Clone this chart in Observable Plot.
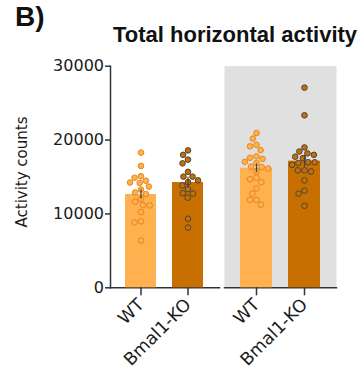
<!DOCTYPE html>
<html><head><meta charset="utf-8">
<script src="https://cdn.jsdelivr.net/npm/d3@7"></script>
<script src="https://cdn.jsdelivr.net/npm/@observablehq/plot@0.6"></script>
<style>
body{margin:0;background:#fff;}
#wrap{position:relative;width:361px;height:372px;overflow:hidden;}
#wrap svg{position:absolute;top:0;}
.lbl{position:absolute;white-space:nowrap;line-height:1;color:#111;}
.bold{font-family:"Liberation Sans",Arial,sans-serif;font-weight:bold;}
</style></head><body>
<div id="wrap">
  <div class="lbl bold" style="left:15px;top:3px;font-size:28px">B)</div>
  <div class="lbl bold" style="left:113px;top:24px;font-size:22px">Total horizontal activity</div>
  <div class="lbl" id="ylab" style="left:22px;top:171.5px;transform:translate(-50%,-50%) rotate(-90deg);font-family:'DejaVu Sans';font-size:15px;color:#1a1a1a">Activity counts</div>
</div>
<script>
// ---- data ----
const genotypes = ["WT", "Bmal1-KO"];
const yTicks = [0, 10000, 20000, 30000];

// panel 1 (white background)
const wtPanel1 = [18300, 16500, 15100, 14900, 14500, 14250, 14200, 13700, 13300, 12900, 12700, 12050, 11650, 11200, 11150, 10250, 9000, 8850, 6400];
const koPanel1 = [18600, 18000, 17350, 16850, 15700, 15050, 15050, 14550, 14300, 13850, 13350, 12800, 12750, 12200, 9350, 8150];
const meansPanel1 = [12630, 14260];

// panel 2 (grey background)
const wtPanel2 = [20950, 20200, 19350, 19150, 18650, 17800, 17600, 17450, 17050, 16900, 16400, 16350, 16150, 15800, 14900, 14700, 14300, 13450, 12750, 11900, 11900, 11250];
const koPanel2 = [27100, 23350, 19000, 18450, 18200, 18000, 17750, 17550, 17000, 17000, 16900, 16650, 15900, 15900, 15750, 14550, 13150, 12750, 11100];
const meansPanel2 = [16190, 17140];

// ---- styles ----
const barColors = ["#FFB04F", "#C76F00"];
const dotStrokes = ["#E5871A", "#4A4540"];
const axisColor = "#333";
const H = 372, MT = 65.7, MB = 84.7;
const baseStyle = {fontFamily: "DejaVu Sans", fontSize: "16px", color: "#1a1a1a", background: "transparent", overflow: "visible"};

// frame layer: background, baseline, y axis (no facets)
function buildFrame({width, marginLeft, withYAxis, background}) {
  const marks = [];
  if (background) marks.push(Plot.frame({fill: background, stroke: null}));
  marks.push(Plot.frame({anchor: "bottom", stroke: axisColor, strokeWidth: 1.5}));
  if (withYAxis) {
    marks.push(Plot.frame({anchor: "left", stroke: axisColor, strokeWidth: 1.5}));
    marks.push(Plot.axisY({ticks: yTicks, tickFormat: d => String(d), tickSize: 5, tickPadding: 1.5,
      stroke: axisColor, strokeWidth: 1.5, label: null, fontSize: 16}));
  }
  return Plot.plot({
    width, height: H, marginLeft, marginRight: 0, marginTop: MT, marginBottom: MB,
    y: {domain: [0, 30000], axis: withYAxis ? undefined : null},
    style: baseStyle,
    marks
  });
}

// data layer: bars, dots, error bars, x labels (faceted by genotype)
function buildData({wt, ko, means, width, marginLeft, padIn, padOut}) {
  const rows = [
    ...wt.map(v => ({genotype: genotypes[0], value: v})),
    ...ko.map(v => ({genotype: genotypes[1], value: v}))
  ];
  const stats = genotypes.map((g, i) => {
    const vals = i === 0 ? wt : ko;
    return {genotype: g, mean: means[i], sem: d3.deviation(vals) / Math.sqrt(vals.length)};
  });
  const marks = [];
  marks.push(Plot.barY(stats, {fx: "genotype", y: "mean", fill: "genotype"}));
  genotypes.forEach((g, i) => {
    marks.push(Plot.dot(rows.filter(d => d.genotype === g),
      Plot.dodgeX("middle", {fx: "genotype", y: "value", r: 2.8, padding: 0.3,
        fill: "genotype", stroke: dotStrokes[i], strokeWidth: 1})));
  });
  marks.push(Plot.ruleX(stats, {fx: "genotype", x: null,
    y1: d => d.mean - d.sem, y2: d => d.mean + d.sem, stroke: "#444", strokeWidth: 1.3}));
  marks.push(Plot.axisFx({anchor: "bottom", tickRotate: -45, tickSize: 8, tickPadding: 6,
    label: null, stroke: axisColor, strokeWidth: 1.5, fontSize: 17.5}));
  return Plot.plot({
    width, height: H,
    marginLeft, marginRight: 0, marginTop: MT, marginBottom: MB,
    y: {domain: [0, 30000], axis: null},
    fx: {domain: genotypes, paddingInner: padIn, paddingOuter: padOut},
    color: {domain: genotypes, range: barColors},
    style: baseStyle,
    marks
  });
}

const wrap = document.getElementById("wrap");
function add(svg, left) { svg.style.left = left + "px"; wrap.appendChild(svg); }

add(buildFrame({width: 219, marginLeft: 110, withYAxis: true}), 0);
add(buildFrame({width: 117, marginLeft: 5, background: "#E0E0E0"}), 219);
add(buildData({wt: wtPanel1, ko: koPanel1, means: meansPanel1,
  width: 219, marginLeft: 110, padIn: 0.33, padOut: 0.3245}), 0);
add(buildData({wt: wtPanel2, ko: koPanel2, means: meansPanel2,
  width: 117, marginLeft: 5, padIn: 0.338, padOut: 0.335}), 219);
</script>
</body></html>
